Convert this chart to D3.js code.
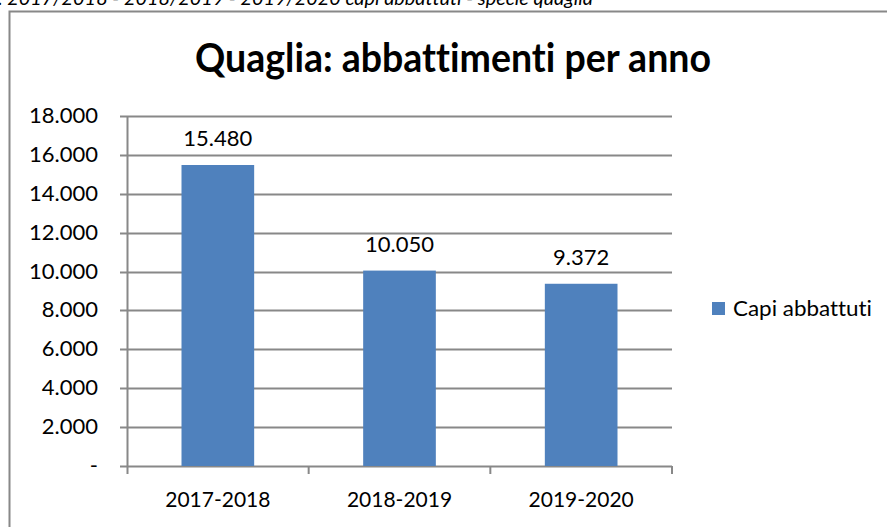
<!DOCTYPE html>
<html>
<head>
<meta charset="utf-8">
<script src="https://cdn.jsdelivr.net/npm/d3@7"></script>
<style>
  body { margin: 0; background: #fff; }
  text { font-family: Lato, "Open Sans", sans-serif; fill: #000; font-variant-ligatures: none; }
</style>
</head>
<body>
<div id="my_dataviz"></div>
<script>
const years = ["2017-2018", "2018-2019", "2019-2020"]
const capi = [15480, 10050, 9372]
const yTicks = [0, 2000, 4000, 6000, 8000, 10000, 12000, 14000, 16000, 18000]
const seriesName = "Capi abbattuti"

const W = 887, H = 527
const plot = {left: 127, right: 672, top: 116, bottom: 466}

const svg = d3.select("#my_dataviz")
  .append("svg")
    .attr("width", W)
    .attr("height", H)

// caption cut off at the top of the page, as in the source
svg.append("text")
  .attr("x", -2)
  .attr("y", 5)
  .attr("textLength", 595)
  .attr("lengthAdjust", "spacingAndGlyphs")
  .style("font-style", "italic")
  .style("font-size", "20px")
  .text(". 2017/2018 - 2018/2019 - 2019/2020 capi abbattuti - specie quaglia")

// chart frame
svg.append("rect")
  .attr("x", 9.5).attr("y", 11.5)
  .attr("width", W).attr("height", H)
  .attr("fill", "none")
  .attr("stroke", "#888")
  .attr("stroke-width", 2)

svg.append("text")
  .attr("x", 453)
  .attr("y", 72)
  .attr("text-anchor", "middle")
  .attr("textLength", 516)
  .attr("lengthAdjust", "spacingAndGlyphs")
  .style("font-weight", "bold")
  .style("font-size", "40px")
  .text("Quaglia: abbattimenti per anno")

const x = d3.scaleBand()
  .domain(years)
  .range([plot.left, plot.right])
  .paddingInner(0.6)
  .paddingOuter(0.3)

const xb = d3.scaleBand()
  .domain(years)
  .range([plot.left, plot.right])

const y = d3.scaleLinear()
  .domain([0, 18000])
  .range([plot.bottom, plot.top])

const fmt = v => v === 0 ? "-" : d3.format(",")(v).replace(/,/g, ".")

// gridlines
svg.append("g")
  .selectAll("line")
  .data(yTicks)
  .join("line")
    .attr("x1", plot.left - 7)
    .attr("x2", plot.right)
    .attr("y1", d => Math.round(y(d)) + 0.5)
    .attr("y2", d => Math.round(y(d)) + 0.5)
    .attr("stroke", "#888")
    .attr("stroke-width", 2)

// y axis line
svg.append("line")
  .attr("x1", plot.left + 0.5).attr("x2", plot.left + 0.5)
  .attr("y1", plot.top).attr("y2", plot.bottom + 8)
  .attr("stroke", "#888")
  .attr("stroke-width", 2)

// x tick marks at category boundaries
svg.append("g")
  .selectAll("line")
  .data(years.slice(1).concat(["end"]))
  .join("line")
    .attr("x1", (d, i) => i < years.length - 1 ? xb(d) : plot.right)
    .attr("x2", (d, i) => i < years.length - 1 ? xb(d) : plot.right)
    .attr("y1", plot.bottom)
    .attr("y2", plot.bottom + 8)
    .attr("stroke", "#888")
    .attr("stroke-width", 2)

svg.append("g")
  .selectAll("text")
  .data(yTicks)
  .join("text")
    .attr("x", 98)
    .attr("y", d => y(d) + 7)
    .attr("text-anchor", "end")
    .style("font-size", "22px")
    .text(fmt)

svg.append("g")
  .selectAll("rect")
  .data(capi)
  .join("rect")
    .attr("x", (d, i) => x(years[i]))
    .attr("y", d => y(d))
    .attr("width", x.bandwidth())
    .attr("height", d => plot.bottom - y(d))
    .attr("fill", "#4f81bd")

svg.append("g")
  .selectAll("text")
  .data(capi)
  .join("text")
    .attr("x", (d, i) => x(years[i]) + x.bandwidth() / 2)
    .attr("y", d => y(d) - 19)
    .attr("text-anchor", "middle")
    .style("font-size", "22px")
    .text(fmt)

svg.append("g")
  .selectAll("text")
  .data(years)
  .join("text")
    .attr("x", d => xb(d) + xb.bandwidth() / 2)
    .attr("y", 507)
    .attr("text-anchor", "middle")
    .style("font-size", "21px")
    .text(d => d)

// legend
svg.append("rect")
  .attr("x", 712).attr("y", 302)
  .attr("width", 13).attr("height", 13)
  .attr("fill", "#4f81bd")

svg.append("text")
  .attr("x", 733)
  .attr("y", 316)
  .attr("textLength", 139)
  .attr("lengthAdjust", "spacingAndGlyphs")
  .style("font-size", "22px")
  .text(seriesName)
</script>
</body>
</html>
